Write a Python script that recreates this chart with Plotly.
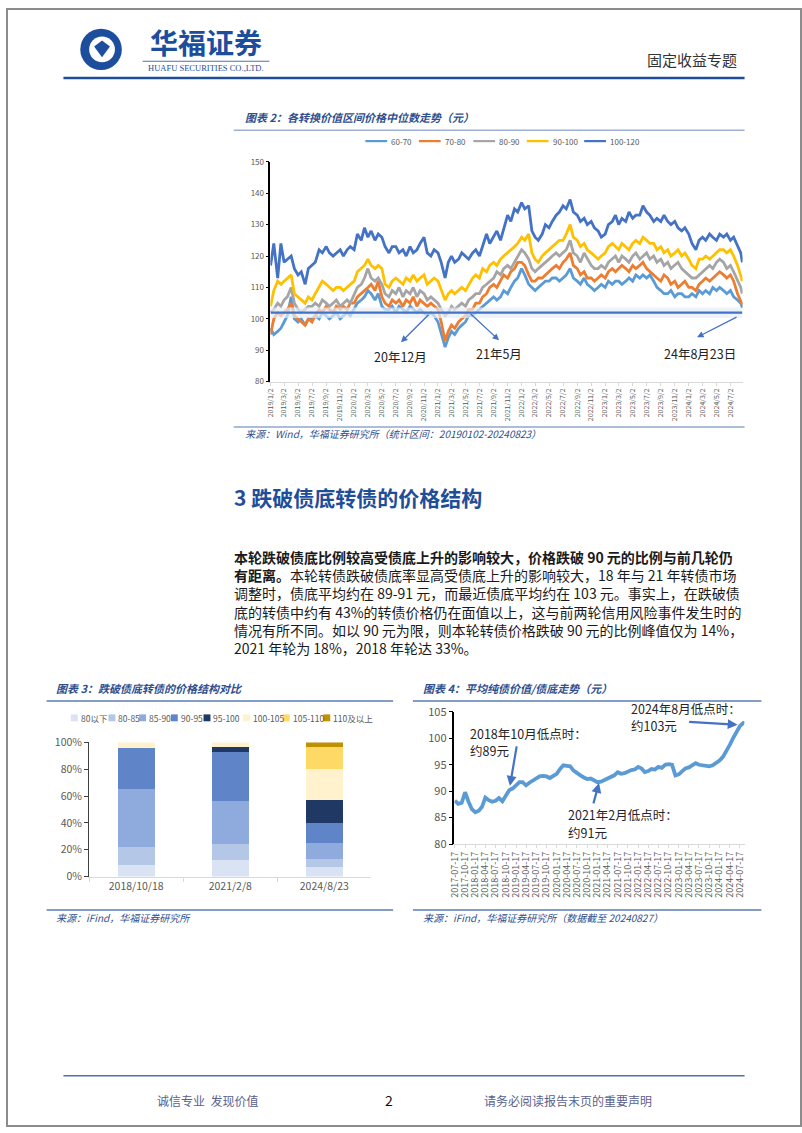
import pandas as pd
import plotly.graph_objects as go

W, H = 802, 1133
CJK = "Noto Sans CJK SC, Noto Sans, sans-serif"
BLUE_TXT = "#2F4F8F"

# ---- 图表2：各转换价值区间价格中位数走势（半月读数）----
band_names = ["60-70", "70-80", "80-90", "90-100", "100-120"]
band_colors = ["#5B9BD5", "#ED7D31", "#A5A5A5", "#FFC000", "#4472C4"]

s60_70 = [
    97, 95, 96, 97, 99, 101, 107, 100, 99, 100, 98, 100, 100, 101, 100, 102, 101, 100, 101, 102, 100, 101, 102, 101,
    103, 105, 106, 107, 109, 108, 106, 108, 104, 103, 103, 104, 102, 104, 103, 102, 104, 103, 102, 103, 102, 101, 102, 101,
    99, 95, 91, 94, 96, 95, 97, 98, 99, 101, 101, 102, 103, 104, 105, 106, 107, 106, 107, 109, 108, 110, 112, 113,
    116, 114, 111, 110, 109, 110, 111, 112, 112, 113, 113, 112, 113, 114, 116, 113, 112, 111, 113, 111, 110, 109, 110, 111,
    110, 112, 111, 112, 112, 111, 112, 113, 112, 114, 113, 114, 113, 114, 112, 110, 109, 108, 108, 109, 107, 108, 108, 107,
    107, 108, 107, 109, 108, 109, 108, 110, 109, 110, 109, 108, 109, 107, 106, 105, 103.5,
]
s70_80 = [
    95, 100, 102, 101, 102, 103, 105, 101, 100, 99, 98, 100, 99, 101, 103, 102, 104, 103, 102, 104, 103, 104, 103, 105,
    105, 107, 108, 109, 110, 111, 109, 112, 107, 105, 104, 106, 105, 106, 104, 106, 105, 107, 104, 106, 105, 104, 105, 104,
    103, 99, 93, 96, 98, 97, 99, 100, 101, 103, 103, 105, 105, 107, 108, 110, 111, 110, 112, 114, 113, 115, 116, 118,
    118, 117, 114, 112, 112, 113, 113, 114, 115, 116, 117, 116, 118, 119, 121, 117, 116, 114, 115, 113, 113, 112, 113, 114,
    113, 115, 116, 115, 116, 117, 116, 115, 117, 116, 117, 118, 116, 115, 114, 113, 112, 114, 113, 111, 112, 110, 111, 112,
    110, 110, 109, 111, 112, 113, 112, 113, 114, 115, 114, 113, 114, 112, 108, 106, 104.5,
]
s80_90 = [
    102, 103, 105, 104, 106, 107, 110, 105, 103, 102, 103, 104, 104, 105, 104, 106, 105, 104, 105, 106, 104, 105, 106, 105,
    108, 110, 111, 113, 116, 113, 112, 113, 111, 108, 107, 109, 108, 110, 107, 109, 108, 110, 107, 109, 108, 106, 107, 106,
    105, 103, 101, 102, 104, 103, 104, 105, 104, 106, 107, 108, 108, 110, 111, 112, 113, 115, 114, 116, 117, 116, 118, 120,
    122, 121, 119, 116, 115, 116, 117, 118, 119, 120, 121, 120, 121, 122, 125, 121, 120, 118, 121, 119, 117, 116, 116, 117,
    116, 118, 119, 120, 118, 120, 119, 118, 120, 121, 119, 120, 121, 119, 120, 118, 119, 117, 118, 116, 117, 118, 116, 115,
    114, 113, 113, 114, 115, 116, 117, 116, 118, 119, 118, 116, 117, 115, 112, 110, 108,
]
s90_100 = [
    104, 109, 112, 111, 112, 113, 114, 108, 107, 106, 105, 107, 106, 108, 110, 112, 111, 110, 109, 110, 110, 109, 110, 111,
    112, 115, 116, 117, 119, 117, 116, 117, 116, 111, 110, 112, 113, 112, 111, 113, 112, 114, 112, 113, 114, 111, 112, 113,
    112, 109, 106, 108, 109, 108, 109, 110, 109, 111, 113, 114, 113, 116, 115, 117, 118, 117, 119, 120, 121, 122, 123, 124,
    126, 125, 127, 121, 119, 118, 120, 121, 122, 123, 124, 125, 125, 127, 130, 126, 125, 123, 124, 122, 121, 120, 119, 120,
    121, 123, 124, 123, 122, 124, 123, 122, 124, 125, 124, 126, 125, 124, 124, 122, 123, 121, 122, 120, 121, 122, 120, 121,
    119, 117, 116, 119, 119, 120, 119, 120, 121, 122, 122, 121, 122, 120, 117, 114, 112,
]
s100_120 = [
    117, 124, 113, 124, 118, 119, 120, 116, 114, 115, 111, 116, 117, 118, 122, 121, 123, 121, 120, 121, 122, 120, 122, 123,
    122, 127, 125, 129, 126, 128, 125, 127, 126, 123, 121, 123, 123, 121, 122, 120, 123, 121, 122, 124, 126, 121, 120, 122,
    121, 118, 113, 118, 120, 118, 119, 121, 120, 119, 121, 122, 120, 123, 127, 124, 126, 128, 125, 129, 133, 131, 135, 134,
    137, 135, 136, 128, 126, 125, 127, 130, 129, 131, 133, 134, 136, 135, 138, 134, 133, 131, 132, 130, 131, 129, 128, 126,
    127, 130, 131, 133, 130, 132, 131, 134, 132, 133, 133, 136, 134, 133, 131, 132, 131, 133, 131, 130, 131, 129, 128, 129,
    127, 124, 122, 125, 126, 125, 127, 126, 125, 127, 126, 127, 125, 126, 123, 121, 118,
]
band_series = [s60_70, s70_80, s80_90, s90_100, s100_120]
bond_floor_line = 102

median_months = pd.period_range("2019-01", "2024-08", freq="M")
median_dates = [p.to_timestamp() + pd.Timedelta(days=d) for p in median_months for d in (1, 15)]
median_dates.append(pd.Timestamp("2024-08-23"))

tick2_vals = [pd.Timestamp(y, m, 2) for y in range(2019, 2025) for m in range(1, 13, 2) if (y, m) <= (2024, 7)]
tick2_text = [f"{d.year}/{d.month}/{d.day}" for d in tick2_vals]

# ---- 图表3：跌破债底转债的价格结构对比 ----
snapshot_dates = ["2018/10/18", "2021/2/8", "2024/8/23"]
bucket_names = ["80以下", "80-85", "85-90", "90-95", "95-100", "100-105", "105-110", "110及以上"]
bucket_colors = ["#DAE3F3", "#B4C7E7", "#8FAADC", "#6084C8", "#203864", "#FFF2CC", "#FFD966", "#BF9000"]
b_below80 = [9.0, 12.2, 6.9]
b_80_85 = [13.0, 11.9, 5.9]
b_85_90 = [43.1, 32.0, 12.3]
b_90_95 = [30.5, 36.6, 14.9]
b_95_100 = [0.0, 4.1, 17.0]
b_100_105 = [4.4, 3.2, 22.9]
b_105_110 = [0.0, 0.0, 17.1]
b_above110 = [0.0, 0.0, 3.0]
bucket_values = [b_below80, b_80_85, b_85_90, b_90_95, b_95_100, b_100_105, b_105_110, b_above110]

# ---- 图表4：平均纯债价值/债底走势（月度读数）----
bond_value = [
    88.2, 87.6, 87.8, 89.8, 88.0, 86.6, 86.0, 86.3, 87.0, 88.8, 88.3, 88.0,
    88.2, 88.7, 88.1, 89.0, 90.2, 90.5, 91.0, 91.7, 91.7, 91.1, 91.6, 92.0,
    92.3, 92.8, 92.9, 92.8, 92.5, 93.0, 93.3, 94.2, 94.9, 94.8, 94.7, 93.9,
    93.4, 93.0, 92.6, 92.3, 92.4, 92.0, 91.7, 91.8, 92.1, 92.5, 92.8, 93.0,
    93.6, 93.3, 93.4, 93.7, 94.0, 94.1, 94.6, 94.3, 93.6, 93.8, 94.2, 94.1,
    94.6, 94.4, 95.0, 95.1, 95.0, 93.0, 93.2, 93.8, 94.3, 94.5, 94.8, 95.3,
    95.0, 94.9, 94.8, 94.7, 94.9, 95.3, 95.8, 96.5, 97.5, 98.7, 100.0, 101.2,
    102.3, 102.9, 102.8,
]
bond_dates = list(pd.date_range("2017-07-17", periods=86, freq=pd.DateOffset(months=1)))
bond_dates.append(pd.Timestamp("2024-08-27"))
tick4_vals = list(pd.date_range("2017-07-17", "2024-07-17", freq=pd.DateOffset(months=3)))
tick4_text = [d.strftime("%Y-%m-%d") for d in tick4_vals]

body_lines = [
    "<b>本轮跌破债底比例较高受债底上升的影响较大，价格跌破 90 元的比例与前几轮仍</b>",
    "<b>有距离。</b>本轮转债跌破债底率显高受债底上升的影响较大，18 年与 21 年转债市场",
    "调整时，债底平均约在 89-91 元，而最近债底平均约在 103 元。事实上，在跌破债",
    "底的转债中约有 43%的转债价格仍在面值以上，这与前两轮信用风险事件发生时的",
    "情况有所不同。如以 90 元为限，则本轮转债价格跌破 90 元的比例峰值仅为 14%，",
    "2021 年轮为 18%，2018 年轮达 33%。",
]


def px(x):
    return x / W


def py(y):
    return 1 - y / H


fig = go.Figure()

for name, color, values in zip(band_names, band_colors, band_series):
    fig.add_trace(go.Scatter(x=median_dates, y=values, mode="lines", name=name,
                             line={"color": color, "width": 2.8}, xaxis="x", yaxis="y"))

for name, color, values in zip(bucket_names, bucket_colors, bucket_values):
    fig.add_trace(go.Bar(x=snapshot_dates, y=values, name=name, marker_color=color,
                         marker_line_width=0, xaxis="x2", yaxis="y2"))

fig.add_trace(go.Scatter(x=bond_dates, y=bond_value, mode="lines", line={"color": "#5B9BD5", "width": 3.8},
                         xaxis="x3", yaxis="y3"))

shapes = []
ann = []


def hline(y, x0, x1, color, width):
    shapes.append(dict(type="line", xref="paper", yref="paper", x0=px(x0), x1=px(x1), y0=py(y), y1=py(y),
                       line={"color": color, "width": width}))


def text(x, y, s, size, color="#222", anchor="left", family=CJK, **font):
    ann.append(dict(xref="paper", yref="paper", x=px(x), y=py(y), text=s, showarrow=False, xanchor=anchor,
                    yanchor="middle", align="left", font=dict(family=family, size=size, color=color, **font)))


def arrow(hx, hy, tx, ty, width, color="#4472C4", size=1.0):
    ann.append(dict(xref="paper", yref="paper", x=px(hx), y=py(hy), ax=tx - hx, ay=ty - hy, text="",
                    showarrow=True, arrowhead=2, arrowsize=size, arrowwidth=width, arrowcolor=color))


# page frame, header, footer
shapes.append(dict(type="rect", xref="paper", yref="paper", x0=0, x1=1, y0=0, y1=1,
                   line={"color": "#8C8C8C", "width": 2}))
hline(70, 57, 745, "#1F4E99", 2.5)
shapes.append(dict(type="circle", xref="paper", yref="paper", x0=px(74), x1=px(116), y0=py(62), y1=py(20),
                   fillcolor="#1D4E9E", line={"width": 0}))
shapes.append(dict(type="circle", xref="paper", yref="paper", x0=px(83), x1=px(109), y0=py(54), y1=py(28),
                   fillcolor="white", line={"width": 0}))
shapes.append(dict(type="path", xref="paper", yref="paper",
                   path=f"M {px(88)},{py(38)} L {px(96)},{py(32)} L {px(104)},{py(38)} L {px(96)},{py(49)} Z",
                   fillcolor="#1D4E9E", line={"width": 0}))
text(201, 33, "<b>华福证券</b>", 28, "#1D4E9E", anchor="center")
hline(53, 137, 265, "#1D4E9E", 0.8)
text(201, 59.5, "HUAFU SECURITIES CO.,LTD.", 8.5, "#1D4E9E", anchor="center", family="Liberation Serif")
text(692, 51, "固定收益专题", 15, "#333", anchor="center")

hline(1082, 57, 745, "#4F6FA8", 1.5)
text(203, 1107, "诚信专业  发现价值", 12, "#5A5F8C", anchor="center")
text(386, 1107, "2", 14, "#111", anchor="center")
text(567, 1107, "请务必阅读报告末页的重要声明", 12, "#5A5F8C", anchor="center")

# chart 2 frame
text(238, 110, "<b>图表 2：各转换价值区间价格中位数走势（元）</b>", 11, BLUE_TXT, style="italic")
hline(123, 229, 745, "#9DB0D3", 1.5)
legend2_x = [362, 416, 471, 525, 583]
for lx, name, color in zip(legend2_x, band_names, band_colors):
    hline(134, lx, lx + 22, color, 2.2)
    text(lx + 24, 134, name, 8, "#595959")
shapes.append(dict(type="rect", xref="x", yref="y", x0=median_dates[0], x1=median_dates[-1], y0=100.3, y1=103.6,
                   fillcolor="rgba(228,238,250,0.7)", line={"width": 0}, layer="above"))
shapes.append(dict(type="line", xref="x", yref="y", x0=median_dates[0], x1=median_dates[-1],
                   y0=bond_floor_line, y1=bond_floor_line, line={"color": "#4472C4", "width": 2.2}, layer="above"))
arrow(398, 338, 427, 309, 1.3)
arrow(497, 336, 467, 308, 1.3)
arrow(697, 333, 738, 312, 1.3)
text(397, 352, "20年12月", 12.5, "#222", anchor="center")
text(497, 349, "21年5月", 12.5, "#222", anchor="center")
text(700, 349, "24年8月23日", 12.5, "#222", anchor="center")
hline(424, 229, 745, "#5B7DB1", 1.2)
text(238, 431, "来源：Wind，华福证券研究所（统计区间：20190102-20240823）", 10, BLUE_TXT, style="italic")

# section text
text(227, 495, "<b>3 跌破债底转债的价格结构</b>", 21, "#1F4E99")
ann.append(dict(xref="paper", yref="paper", x=px(227), y=py(544), text="<br>".join(body_lines), showarrow=False,
                xanchor="left", yanchor="top", align="left", font=dict(family=CJK, size=14, color="#1A1A1A")))

# chart 3 frame
text(47, 689, "<b>图表 3：跌破债底转债的价格结构对比</b>", 11, BLUE_TXT, style="italic")
hline(702, 40, 390, "#5B7DB1", 1.5)
legend3_x = [68, 106, 137, 169, 202, 242, 282, 323]
for lx, name, color in zip(legend3_x, bucket_names, bucket_colors):
    shapes.append(dict(type="rect", xref="paper", yref="paper", x0=px(lx - 3.5), x1=px(lx + 3.5),
                       y0=py(722.5), y1=py(715.5), fillcolor=color, line={"width": 0}))
    text(lx + 4.5, 719, name, 8.5, "#595959")
hline(914, 40, 390, "#5B7DB1", 1.5)
text(47, 922, "来源：iFind，华福证券研究所", 10, BLUE_TXT, style="italic")

# chart 4 frame
text(418, 689, "<b>图表 4：平均纯债价值/债底走势（元）</b>", 11, BLUE_TXT, style="italic")
hline(702, 410, 762, "#5B7DB1", 1.5)
text(466, 735, "2018年10月低点时：", 12.5, "#262626")
text(466, 752, "约89元", 12.5, "#262626")
text(565, 817, "2021年2月低点时：", 12.5, "#262626")
text(565, 835, "约91元", 12.5, "#262626")
text(628, 710, "2024年8月低点时：", 12.5, "#262626")
text(628, 727, "约103元", 12.5, "#262626")
arrow(508, 788, 515, 747, 2.2, size=0.9)
arrow(598, 785, 592, 807, 2.2, size=0.9)
arrow(738, 726, 688, 723, 2.2, size=0.9)
hline(914, 410, 762, "#5B7DB1", 1.5)
text(418, 922, "来源：iFind，华福证券研究所（数据截至 20240827）", 10, BLUE_TXT, style="italic")

tick_font = dict(family=CJK, color="#595959")
fig.update_layout(
    width=W, height=H, margin=dict(l=0, r=0, t=0, b=0),
    paper_bgcolor="white", plot_bgcolor="white", showlegend=False,
    font=dict(family=CJK),
    barmode="stack", bargap=0.61,
    shapes=shapes, annotations=ann,
    xaxis=dict(domain=[px(266), px(743)], anchor="y", type="date",
               range=[pd.Timestamp("2019-01-01"), pd.Timestamp("2024-08-24")],
               tickmode="array", tickvals=tick2_vals, ticktext=tick2_text, tickangle=-90,
               tickfont=dict(size=7, **tick_font), showline=True, linecolor="#D9D9D9", linewidth=1,
               ticks="outside", ticklen=3, tickcolor="#D9D9D9", showgrid=False, zeroline=False),
    yaxis=dict(domain=[py(378), py(155)], anchor="x", range=[80, 150], dtick=10,
               tickfont=dict(size=8, **tick_font), showline=True, linecolor="#000", linewidth=1.5,
               ticks="outside", ticklen=3, tickcolor="#000", showgrid=False, zeroline=False),
    xaxis2=dict(domain=[px(83), px(368)], anchor="y2", type="category",
                tickfont=dict(size=10.5, **tick_font), showline=True, linecolor="#D9D9D9",
                ticks="outside", tickson="boundaries", ticklen=4, tickcolor="#D9D9D9", showgrid=False),
    yaxis2=dict(domain=[py(880), py(744)], anchor="x2", range=[0, 100], dtick=20, ticksuffix="%",
                tickfont=dict(size=10.5, **tick_font), showline=True, linecolor="#404040", linewidth=1.2,
                ticks="outside", ticklen=4, tickcolor="#404040", showgrid=False, zeroline=False),
    xaxis3=dict(domain=[px(452), px(745)], anchor="y3", type="date",
                range=[pd.Timestamp("2017-07-14"), pd.Timestamp("2024-08-29")],
                tickmode="array", tickvals=tick4_vals, ticktext=tick4_text, tickangle=-90,
                tickfont=dict(size=9, **tick_font), showline=True, linecolor="#D9D9D9",
                ticks="outside", ticklen=3, tickcolor="#D9D9D9", showgrid=False, zeroline=False),
    yaxis3=dict(domain=[py(847), py(713)], anchor="x3", range=[80, 105], dtick=5,
                tickfont=dict(size=11, **tick_font), showline=True, linecolor="#000", linewidth=1.5,
                ticks="outside", ticklen=4, tickcolor="#000", showgrid=False, zeroline=False),
)

# the page body keeps its default 8px margin otherwise, which shifts the whole sheet
fig.write_html("out.html", config={"displayModeBar": False},
               post_script="document.body.style.margin = '0';")
